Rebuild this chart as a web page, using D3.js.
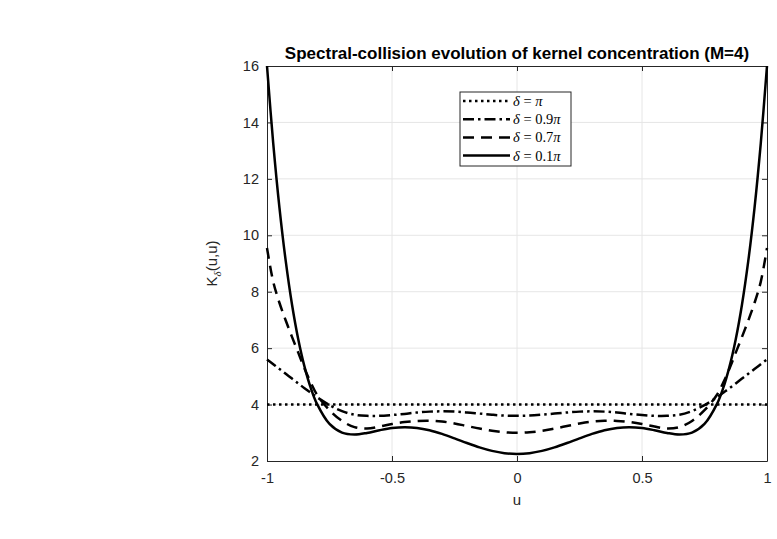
<!DOCTYPE html>
<html>
<head>
<meta charset="utf-8">
<script src="https://cdnjs.cloudflare.com/ajax/libs/d3/7.8.5/d3.min.js"></script>
<style>
  body { margin: 0; background: #fff; }
  svg { display: block; font-family: "Liberation Sans", Arial, Helvetica, sans-serif; }
</style>
</head>
<body>
<div id="chart"></div>
<script>
// sample points along u
const uGrid = [-1, -0.975, -0.95, -0.925, -0.9, -0.875, -0.85, -0.825, -0.8, -0.75, -0.7, -0.65, -0.6,
  -0.55, -0.5, -0.45, -0.4, -0.35, -0.3, -0.25, -0.2, -0.15, -0.1, -0.05, 0, 0.05, 0.1, 0.15, 0.2,
  0.25, 0.3, 0.35, 0.4, 0.45, 0.5, 0.55, 0.6, 0.65, 0.7, 0.75, 0.8, 0.825, 0.85, 0.875, 0.9, 0.925,
  0.95, 0.975, 1];

// delta = pi (flat)
const uPi = [-1, 1];
const kPi = [4, 4];

// delta = 0.9 pi
const k09 = [5.60, 5.43, 5.26, 5.09, 4.92, 4.75, 4.58, 4.42, 4.26, 3.98, 3.77, 3.64, 3.60,
  3.60, 3.63, 3.67, 3.72, 3.75, 3.76, 3.75, 3.72, 3.68, 3.64, 3.61, 3.60, 3.61, 3.64, 3.68, 3.72,
  3.75, 3.76, 3.75, 3.72, 3.67, 3.63, 3.60, 3.60, 3.64, 3.77, 3.98, 4.26, 4.42, 4.58, 4.75, 4.92, 5.09,
  5.26, 5.43, 5.60];

// delta = 0.7 pi
const k07 = [9.55, 8.35, 7.60, 6.98, 6.40, 5.84, 5.28, 4.78, 4.35, 3.80, 3.42, 3.20, 3.15,
  3.22, 3.31, 3.38, 3.42, 3.43, 3.40, 3.33, 3.24, 3.15, 3.07, 3.02, 3.00, 3.02, 3.07, 3.15, 3.24,
  3.33, 3.40, 3.43, 3.42, 3.38, 3.31, 3.22, 3.15, 3.20, 3.42, 3.80, 4.35, 4.78, 5.28, 5.84, 6.40, 6.98,
  7.60, 8.35, 9.55];

// delta = 0.1 pi
const k01 = [16.0, 13.252, 10.965, 9.082, 7.549, 6.318, 5.346, 4.592, 4.023, 3.313, 3.006, 2.939, 2.995,
  3.090, 3.168, 3.200, 3.173, 3.090, 2.960, 2.803, 2.637, 2.483, 2.358, 2.278, 2.25, 2.278, 2.358, 2.483, 2.637,
  2.803, 2.960, 3.090, 3.173, 3.200, 3.168, 3.090, 2.995, 2.939, 3.006, 3.313, 4.023, 4.592, 5.346, 6.318, 7.549, 9.082,
  10.965, 13.252, 16.0];

const xTicks = [-1, -0.5, 0, 0.5, 1];
const xTickLabels = ["-1", "-0.5", "0", "0.5", "1"];
const yTicks = [2, 4, 6, 8, 10, 12, 14, 16];

const legendLabels = ["\u03B4 = \u03C0", "\u03B4 = 0.9\u03C0", "\u03B4 = 0.7\u03C0", "\u03B4 = 0.1\u03C0"];

const W = 777, H = 539;
const plotL = 267, plotR = 767, plotT = 66, plotB = 461;
const axisColor = "#262626";

const svg = d3.select("#chart").append("svg")
    .attr("width", W)
    .attr("height", H);

const x = d3.scaleLinear().domain([-1, 1]).range([plotL, plotR]);
const y = d3.scaleLinear().domain([2, 16]).range([plotB, plotT]);

// grid
svg.append("g")
    .selectAll("line")
    .data(xTicks.slice(1, -1))
    .join("line")
    .attr("x1", d => x(d)).attr("x2", d => x(d))
    .attr("y1", plotT).attr("y2", plotB)
    .attr("stroke", "#e6e6e6").attr("stroke-width", 1);
svg.append("g")
    .selectAll("line")
    .data(yTicks.slice(1, -1))
    .join("line")
    .attr("x1", plotL).attr("x2", plotR)
    .attr("y1", d => y(d)).attr("y2", d => y(d))
    .attr("stroke", "#e6e6e6").attr("stroke-width", 1);

// axes (ticks inside, box on)
const styleAxis = g => {
    g.select(".domain").attr("stroke", axisColor);
    g.selectAll(".tick line").attr("stroke", axisColor);
    g.selectAll(".tick text").attr("fill", axisColor).attr("font-size", "14.5px")
        .attr("font-family", "'Liberation Sans', Arial, sans-serif");
};

svg.append("g")
    .attr("transform", `translate(0,${plotB})`)
    .call(d3.axisBottom(x).tickValues(xTicks).tickFormat((d, i) => xTickLabels[i])
        .tickSizeInner(-5).tickSizeOuter(0).tickPadding(12))
    .call(styleAxis);
svg.append("g")
    .attr("transform", `translate(0,${plotT})`)
    .call(d3.axisTop(x).tickValues(xTicks).tickFormat("").tickSizeInner(-5).tickSizeOuter(0))
    .call(styleAxis);
svg.append("g")
    .attr("transform", `translate(${plotL},0)`)
    .call(d3.axisLeft(y).tickValues(yTicks).tickSizeInner(-5).tickSizeOuter(0).tickPadding(8))
    .call(styleAxis);
svg.append("g")
    .attr("transform", `translate(${plotR},0)`)
    .call(d3.axisRight(y).tickValues(yTicks).tickFormat("").tickSizeInner(-5).tickSizeOuter(0))
    .call(styleAxis);

// curves
const series = [
    { u: uPi, k: kPi, dash: "2.5,3.5" },
    { u: uGrid, k: k09, dash: "11,4,2.5,4" },
    { u: uGrid, k: k07, dash: "11,7" },
    { u: uGrid, k: k01, dash: null }
];

const line = d3.line()
    .x(d => x(d[0]))
    .y(d => y(d[1]))
    .curve(d3.curveCatmullRom.alpha(0.5));

svg.append("g")
    .selectAll("path")
    .data(series)
    .join("path")
    .attr("d", s => line(s.u.map((u, i) => [u, s.k[i]])))
    .attr("fill", "none")
    .attr("stroke", "#000")
    .attr("stroke-width", 2.5)
    .attr("stroke-dasharray", s => s.dash);

// title and labels
svg.append("text")
    .attr("x", (plotL + plotR) / 2)
    .attr("y", 59)
    .attr("text-anchor", "middle")
    .attr("font-size", "17px")
    .attr("font-weight", "bold")
    .attr("fill", "#000")
    .text("Spectral-collision evolution of kernel concentration (M=4)");

svg.append("text")
    .attr("x", (plotL + plotR) / 2)
    .attr("y", 505)
    .attr("text-anchor", "middle")
    .attr("font-size", "15px")
    .attr("fill", axisColor)
    .text("u");

const yl = svg.append("text")
    .attr("transform", `translate(217,${(plotT + plotB) / 2}) rotate(-90)`)
    .attr("text-anchor", "middle")
    .attr("font-size", "15px")
    .attr("fill", axisColor);
yl.append("tspan").text("K");
yl.append("tspan").attr("font-size", "11px").attr("dy", 4).attr("font-style", "italic")
    .attr("font-family", "'Liberation Serif', serif").text("\u03B4");
yl.append("tspan").attr("dy", -4).text("(u,u)");

// legend
const legend = svg.append("g").attr("transform", "translate(460,92)");
legend.append("rect")
    .attr("width", 111).attr("height", 74)
    .attr("fill", "#fff").attr("stroke", axisColor).attr("stroke-width", 1);

const rowH = 18.2;
series.forEach((s, i) => {
    const ry = 9 + i * rowH;
    legend.append("line")
        .attr("x1", 3).attr("x2", 50)
        .attr("y1", ry).attr("y2", ry)
        .attr("stroke", "#000").attr("stroke-width", 2.5)
        .attr("stroke-dasharray", s.dash);
    const t = legend.append("text")
        .attr("x", 53).attr("y", ry + 5)
        .attr("font-size", "14.5px")
        .attr("font-family", "'Liberation Serif', 'DejaVu Serif', serif")
        .attr("fill", "#000");
    const parts = legendLabels[i].split(" = ");
    t.append("tspan").attr("font-style", "italic").text(parts[0]);
    t.append("tspan").text(" = " + parts[1].replace("\u03C0", ""));
    t.append("tspan").attr("font-style", "italic").text("\u03C0");
});
</script>
</body>
</html>
